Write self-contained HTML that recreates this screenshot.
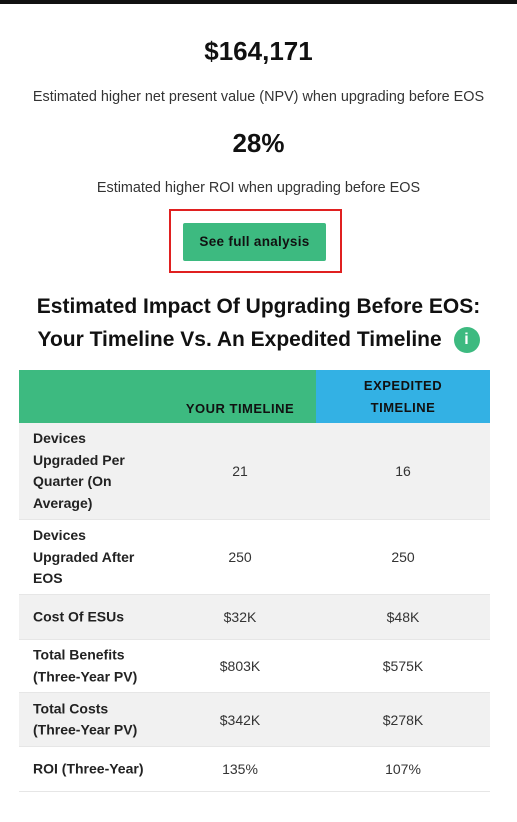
<!DOCTYPE html>
<html><head><meta charset="utf-8"><style>
*{margin:0;padding:0;box-sizing:border-box}
body{width:517px;height:822px;background:#fff;font-family:"Liberation Sans",Arial,sans-serif;position:relative;overflow:hidden;color:#111}
.a{position:absolute}
.c{text-align:center;left:0;width:517px}
.row{position:absolute;left:19px;width:471px;border-bottom:1px solid #e6e6e6}
.row.g{background:#f1f1f1}
.lab{position:absolute;left:14px;font-weight:bold;font-size:14px;line-height:21.5px;color:#222;top:50%;transform:translateY(-50%);white-space:nowrap}
.v{position:absolute;font-size:14px;color:#333;top:50%;transform:translate(-50%,-50%)}
.v1{left:221px}.v2{left:384px}
.hd{font-size:13px;font-weight:bold;letter-spacing:0.5px}
</style></head><body>
<div class="a" style="left:0;top:0;width:517px;height:4px;background:#111"></div>
<div class="a c" style="top:36px;font-size:26px;font-weight:bold">$164,171</div>
<div class="a c" style="top:89px;font-size:14.4px;color:#333">Estimated higher net present value (NPV) when upgrading before EOS</div>
<div class="a c" style="top:128px;font-size:26px;font-weight:bold">28%</div>
<div class="a c" style="top:180px;font-size:14.4px;color:#333">Estimated higher ROI when upgrading before EOS</div>
<div class="a" style="left:169px;top:209px;width:173px;height:64px;border:2px solid #e02020"></div>
<div class="a" style="left:183px;top:223px;width:143px;height:38px;background:#3dba80;border-radius:2px;font-size:13.5px;font-weight:bold;color:#111;text-align:center;line-height:38px;letter-spacing:0.3px">See full analysis</div>
<div class="a c" style="top:290px;font-size:21px;font-weight:bold;line-height:33px">Estimated Impact Of Upgrading Before EOS:<br>Your Timeline Vs. An Expedited Timeline <span style="display:inline-block;width:26px;height:26px;border-radius:50%;background:#3dba80;color:#fff;font-size:16px;line-height:26px;vertical-align:middle;margin-left:6px">i</span></div>
<div class="a" style="left:19px;top:370px;width:297px;height:53px;background:#3dba80"><span class="hd" style="position:absolute;left:221px;top:31px;transform:translateX(-50%);white-space:nowrap">YOUR TIMELINE</span></div>
<div class="a hd" style="left:316px;top:370px;width:174px;height:53px;background:#33b1e4;text-align:center;line-height:22px;padding-top:5px">EXPEDITED<br>TIMELINE</div>
<div class="row g" style="top:423px;height:97px"><div class="lab">Devices<br>Upgraded Per<br>Quarter (On<br>Average)</div><div class="v v1">21</div><div class="v v2">16</div></div>
<div class="row" style="top:520px;height:75px"><div class="lab">Devices<br>Upgraded After<br>EOS</div><div class="v v1">250</div><div class="v v2">250</div></div>
<div class="row g" style="top:595px;height:45px"><div class="lab">Cost Of ESUs</div><div class="v v1">$32K</div><div class="v v2">$48K</div></div>
<div class="row" style="top:640px;height:53px"><div class="lab">Total Benefits<br>(Three-Year PV)</div><div class="v v1">$803K</div><div class="v v2">$575K</div></div>
<div class="row g" style="top:693px;height:54px"><div class="lab">Total Costs<br>(Three-Year PV)</div><div class="v v1">$342K</div><div class="v v2">$278K</div></div>
<div class="row" style="top:747px;height:45px"><div class="lab">ROI (Three-Year)</div><div class="v v1">135%</div><div class="v v2">107%</div></div>
</body></html>
